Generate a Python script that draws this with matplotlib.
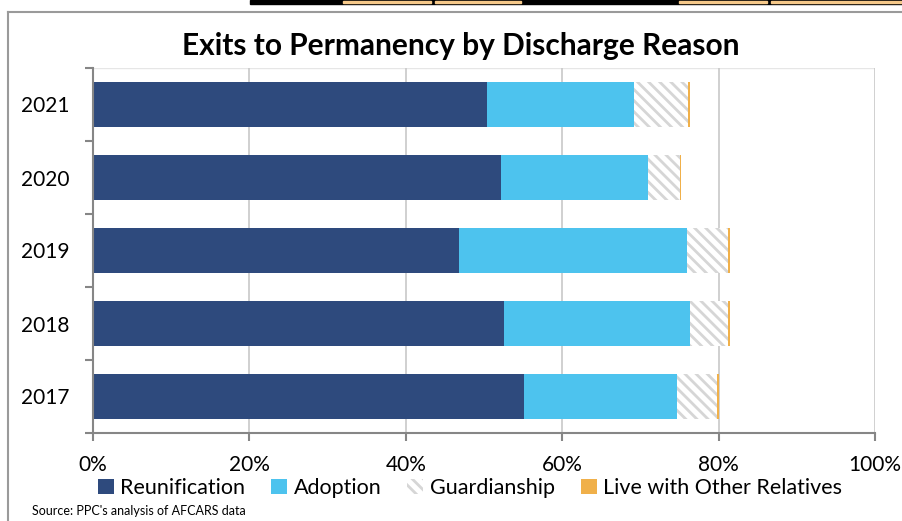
import numpy as np
import matplotlib
matplotlib.use("Agg")
import matplotlib.pyplot as plt
from matplotlib.patches import Patch, Rectangle
from matplotlib.lines import Line2D

plt.rcParams['font.family'] = ['Lato', 'DejaVu Sans']
plt.rcParams['hatch.linewidth'] = 2.0

years = ["2017", "2018", "2019", "2020", "2021"]
reunification = [55.1, 52.6, 46.8, 52.2, 50.4]
adoption = [19.6, 23.7, 29.2, 18.8, 18.8]
guardianship = [5.1, 4.9, 5.2, 4.1, 6.9]
other_relatives = [0.2, 0.2, 0.2, 0.1, 0.2]

series = ["Reunification", "Adoption", "Guardianship", "Live with Other Relatives"]
colors = ["#2E4A7D", "#4DC3EE", "white", "#F0B04A"]

W, H = 902, 521
fig = plt.figure(figsize=(W / 100, H / 100), dpi=100)

# outer chart border and the table edge above it
fig.add_artist(Line2D([8 / W, 1], [1 - 12 / H, 1 - 12 / H], color="#9A9A9A", lw=1.5))
fig.add_artist(Line2D([8 / W, 8 / W], [0, 1 - 12 / H], color="#9A9A9A", lw=1.5))
fig.add_artist(Rectangle((250 / W, 1 - 4 / H), 1, 4 / H, color="black"))
for x0, x1 in [(343, 431), (435, 521), (679, 767), (771, 902)]:
    fig.add_artist(Rectangle((x0 / W, 1 - 3 / H), (x1 - x0) / W, 2 / H, color="#F6C98A"))

ax = fig.add_axes([93 / W, 1 - 433 / H, (875 - 93) / W, (433 - 68) / H])

y = np.arange(len(years))
h = 0.63
left = np.zeros(len(years))
data = [reunification, adoption, guardianship, other_relatives]
for name, vals, c in zip(series, data, colors):
    vals = np.array(vals)
    if name == "Guardianship":
        ax.barh(y, vals, left=left, height=h, color="white", edgecolor="#D6D6D6",
                hatch="\\\\\\", lw=0, zorder=2)
    else:
        ax.barh(y, vals, left=left, height=h, color=c, lw=0, zorder=2)
    left += vals

ax.set_xlim(0, 100)
ax.set_ylim(-0.5, len(years) - 0.5)
ax.set_xticks(np.arange(0, 101, 20))
ax.set_xticklabels([f"{v}%" for v in range(0, 101, 20)], fontsize=15)
ax.xaxis.grid(True, color="#C8C8C8", lw=1.2, zorder=0)

ax.set_yticks(np.arange(-0.5, len(years), 1))
ax.set_yticklabels([])
ax.set_yticks(y, minor=True)
ax.set_yticklabels(years, minor=True, fontsize=15)
ax.tick_params(axis="y", which="minor", length=0, pad=17)
ax.tick_params(axis="y", which="major", length=6, color="#868686", width=1.5)
ax.tick_params(axis="x", length=6, color="#868686", width=1.5, pad=10, direction="out")

for s in ["top", "right"]:
    ax.spines[s].set_visible(False)
for s in ["left", "bottom"]:
    ax.spines[s].set_color("#868686")
    ax.spines[s].set_linewidth(1.5)
ax.axhline(len(years) - 0.5, color="#E6E6E6", lw=1, zorder=1)

fig.text(461 / W, 1 - 46 / H, "Exits to Permanency by Discharge Reason",
         ha="center", va="center", fontsize=21.5, fontweight="bold")

handles = [Patch(facecolor=colors[0]), Patch(facecolor=colors[1]),
           Patch(facecolor="white", edgecolor="#D6D6D6", hatch="\\\\\\", lw=0),
           Patch(facecolor=colors[3])]
fig.legend(handles, series, loc="center", bbox_to_anchor=(470 / W, 1 - 488 / H),
           ncol=4, frameon=False, fontsize=15.5, handlelength=0.75, handleheight=0.75,
           handletextpad=0.3, columnspacing=1.2, borderaxespad=0)

fig.text(32 / W, 1 - 511 / H, "Source: PPC's analysis of AFCARS data",
         ha="left", va="center", fontsize=9)

fig.savefig("out.png", dpi=100)
